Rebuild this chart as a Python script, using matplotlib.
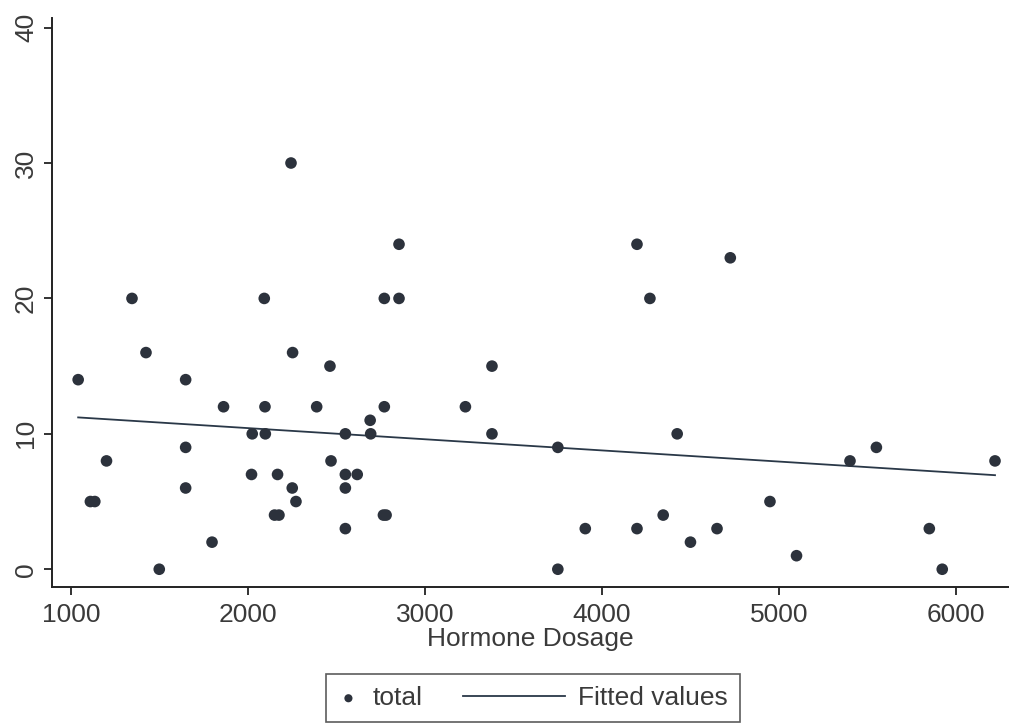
import numpy as np
import matplotlib
matplotlib.use("Agg")
import matplotlib.pyplot as plt
from matplotlib.lines import Line2D
from matplotlib.legend_handler import HandlerBase

plt.rcParams['font.family'] = ['Liberation Sans', 'DejaVu Sans']

# hormone dosage vs total
dosage = [1041, 1110, 1135, 1201, 1345, 1424, 1499, 1648, 1648, 1648,
          1797, 1862, 2024, 2020, 2092, 2096, 2098, 2150, 2175, 2167,
          2243, 2250, 2252, 2271, 2388, 2463, 2469, 2550, 2550, 2550,
          2550, 2617, 2690, 2693, 2770, 2770, 2765, 2780, 2853, 2853,
          3228, 3378, 3378, 3750, 3750, 3905, 4197, 4197, 4270, 4345,
          4424, 4499, 4649, 4724, 4948, 5098, 5400, 5549, 5848, 5921,
          6219]
total = [14, 5, 5, 8, 20, 16, 0, 14, 9, 6,
         2, 12, 10, 7, 20, 12, 10, 4, 4, 7,
         30, 6, 16, 5, 12, 15, 8, 10, 7, 6,
         3, 7, 11, 10, 20, 12, 4, 4, 24, 20,
         12, 15, 10, 9, 0, 3, 24, 3, 20, 4,
         10, 2, 3, 23, 5, 1, 8, 9, 3, 0,
         8]

x = np.array(dosage, dtype=float)
y = np.array(total, dtype=float)
b, a = np.polyfit(x, y, 1)
xf = np.array([x.min(), x.max()])
yf = a + b * xf

dark = '#2c323c'
txt = '#3a3a3a'


# stata style legend: the fitted line key is longer than the marker key
class LongLine(HandlerBase):
    def create_artists(self, legend, orig_handle, xdescent, ydescent,
                       width, height, fontsize, trans):
        ext = 3.8 * width
        y0 = height / 2 - ydescent
        ln = Line2D([-xdescent - ext, width - xdescent], [y0, y0],
                    color=orig_handle.get_color(),
                    lw=orig_handle.get_linewidth(), transform=trans)
        return [ln]


fig = plt.figure(figsize=(10.09, 7.25), dpi=100)
ax = fig.add_axes([0.0515, 0.19, 0.9485, 0.785])

pts = ax.scatter(x, y, s=70, color=dark, edgecolors='none', zorder=3,
                 label='total')
fit, = ax.plot(xf, yf, color='#2a3848', lw=1.3, label='Fitted values')

ax.set_xlim(893, 6298)
ax.set_ylim(-1.33, 40.7)
ax.set_xticks([1000, 2000, 3000, 4000, 5000, 6000])
ax.set_yticks([0, 10, 20, 30, 40])

for s in ['top', 'right']:
    ax.spines[s].set_visible(False)
for s in ['left', 'bottom']:
    ax.spines[s].set_linewidth(1.4)
    ax.spines[s].set_color('#222222')

ax.tick_params(axis='both', direction='out', length=6, width=1.3,
               colors='#222222', labelsize=19, labelcolor=txt)
ax.tick_params(axis='y', pad=4)
ax.tick_params(axis='x', pad=5)
plt.setp(ax.get_yticklabels(), rotation=90, va='center')

ax.set_xlabel('Hormone Dosage', fontsize=19, color=txt, labelpad=0)

leg = fig.legend([pts, fit], ['total', 'Fitted values'],
                 loc='center', bbox_to_anchor=(0.528, 0.037), ncol=2,
                 fontsize=19, frameon=True, fancybox=False, handlelength=0.8,
                 markerscale=0.7, columnspacing=4.6, borderpad=0.45,
                 handletextpad=0.5, handler_map={fit: LongLine()})
leg.get_frame().set_edgecolor('#333333')
leg.get_frame().set_linewidth(1.2)
for t in leg.get_texts():
    t.set_color(txt)

fig.savefig('out.png', dpi=100)
